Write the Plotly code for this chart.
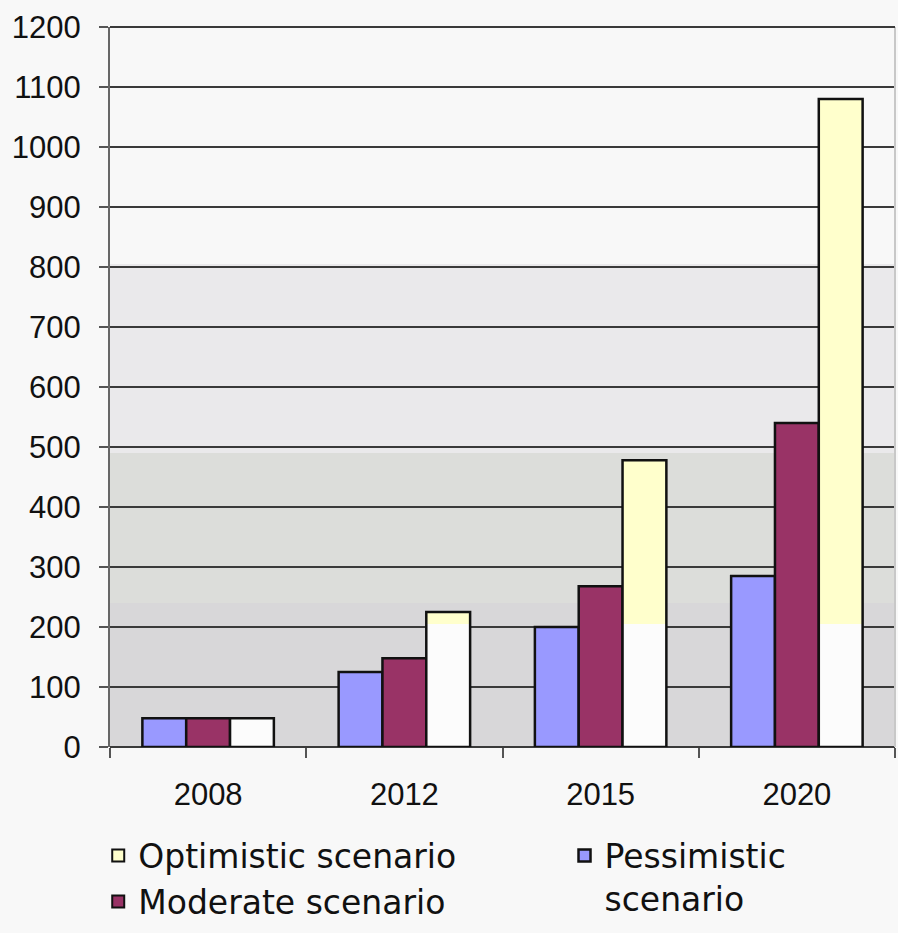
import plotly.graph_objects as go

# Data
years = ["2008", "2012", "2015", "2020"]
pessimistic = [48, 125, 200, 285]
moderate = [48, 148, 268, 540]
optimistic = [48, 225, 478, 1080]

y_ticks = list(range(0, 1201, 100))

# Styling
BLUE = "#9999FF"
MAROON = "#993366"
YELLOW = "#FFFFCC"
WHITE_TINT = "#FCFCFC"
BG = "#F8F8F8"
TINT_LEVEL = 205  # optimistic bars are pale white below this level

line_style = dict(color="#111111", width=2.5)

opt_low = [min(v, TINT_LEVEL) for v in optimistic]
opt_high = [max(v - TINT_LEVEL, 0) for v in optimistic]

fig = go.Figure()

fig.add_trace(go.Bar(
    x=years, y=pessimistic, name="Pessimistic<br>scenario",
    offsetgroup="p", marker=dict(color=BLUE, line=line_style),
    legend="legend2", hoverinfo="y",
))
fig.add_trace(go.Bar(
    x=years, y=moderate, name="Moderate scenario",
    offsetgroup="m", marker=dict(color=MAROON, line=line_style),
    legend="legend", legendrank=2, hoverinfo="y",
))
# Optimistic bars: pale lower part, yellow upper part, then a single outline
fig.add_trace(go.Bar(
    x=years, y=opt_low, offsetgroup="o", showlegend=False,
    marker=dict(color=WHITE_TINT, line=dict(width=0)), hoverinfo="skip",
))
fig.add_trace(go.Bar(
    x=years, y=opt_high, base=[TINT_LEVEL] * len(years), offsetgroup="o",
    showlegend=False, marker=dict(color=YELLOW, line=dict(width=0)),
    hoverinfo="skip",
))
fig.add_trace(go.Bar(
    x=years, y=optimistic, offsetgroup="o", showlegend=False,
    marker=dict(color="rgba(0,0,0,0)", line=line_style), hoverinfo="y",
))
fig.add_trace(go.Bar(
    x=[None], y=[None], name="Optimistic scenario", offsetgroup="o",
    marker=dict(color=YELLOW, line=line_style),
    legend="legend", legendrank=1,
))

# Shaded background bands of the plot area
bands = [
    (805, 1200, BG),
    (490, 805, "#EAE9EB"),
    (240, 490, "#DCDDDA"),
    (0, 240, "#D8D7D9"),
]
shapes = [
    dict(type="rect", xref="paper", yref="y", x0=0, x1=1, y0=lo, y1=hi,
         fillcolor=col, line=dict(width=0), layer="below")
    for lo, hi, col in bands
]
# light frame on the right and dark rule along the top of the plot area
shapes.append(dict(type="line", xref="paper", yref="paper", x0=1, x1=1,
                   y0=0, y1=1, line=dict(color="#C8C8C8", width=2)))
shapes.append(dict(type="line", xref="paper", yref="paper", x0=0, x1=1,
                   y0=1, y1=1, line=dict(color="#3A3A3A", width=2)))

legend_font = dict(family="DejaVu Sans", size=33, color="#111111")

fig.update_layout(
    width=898, height=933,
    margin=dict(l=110, r=3, t=27, b=184),
    paper_bgcolor=BG, plot_bgcolor=BG,
    barmode="group", bargap=0.33, bargroupgap=0,
    shapes=shapes,
    font=dict(family="Liberation Sans", size=31, color="#111111"),
    xaxis=dict(
        type="category", tickson="boundaries", ticks="outside", ticklen=10,
        tickwidth=2, tickcolor="#555555", showline=False, showgrid=False,
        ticklabelstandoff=26, tickfont=dict(size=31), automargin=False,
    ),
    yaxis=dict(
        range=[0, 1200], tickvals=y_ticks, ticks="outside", ticklen=9,
        tickwidth=2, tickcolor="#555555", showline=True, linecolor="#666666",
        linewidth=2, showgrid=True, gridcolor="#3A3A3A", gridwidth=2,
        zeroline=True, zerolinecolor="#3A3A3A", zerolinewidth=2,
        ticklabelstandoff=12, tickfont=dict(size=31), automargin=False,
    ),
    legend=dict(
        x=-0.015, y=-0.112, xanchor="left", yanchor="top",
        orientation="v", bgcolor="rgba(0,0,0,0)", font=legend_font,
        traceorder="normal", itemsizing="constant",
    ),
    legend2=dict(
        x=0.579, y=-0.112, xanchor="left", yanchor="top",
        orientation="v", bgcolor="rgba(0,0,0,0)", font=legend_font,
        valign="top",
    ),
    showlegend=True,
)

fig.write_html("out.html")
